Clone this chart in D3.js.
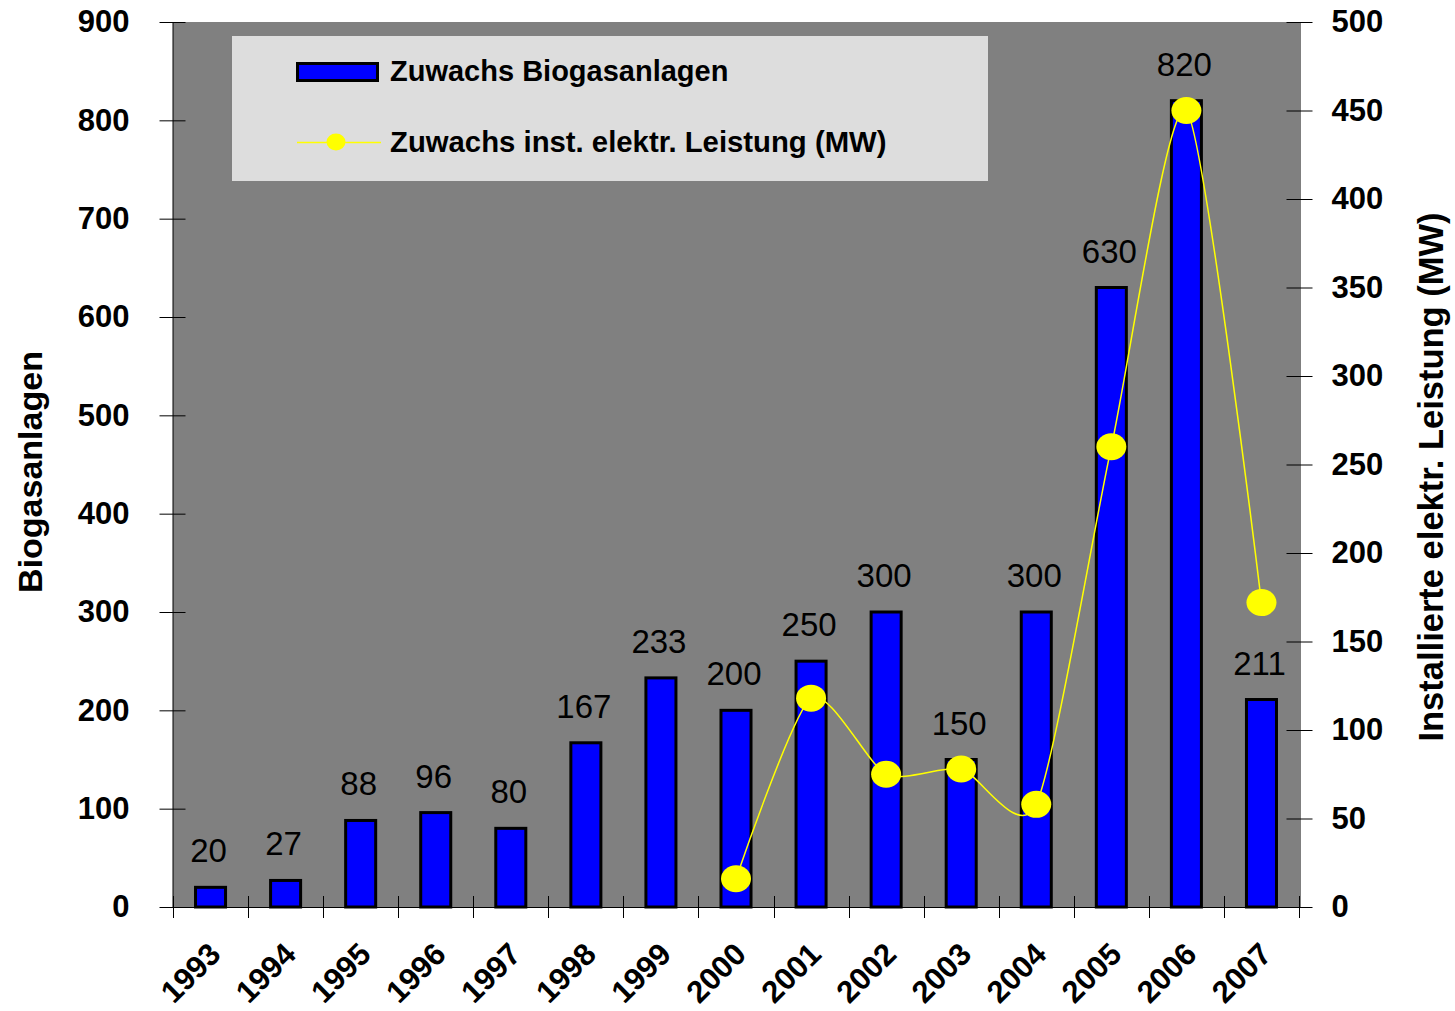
<!DOCTYPE html>
<html>
<head>
<meta charset="utf-8">
<script src="https://cdn.jsdelivr.net/npm/d3@7"></script>
<style>
  body { margin: 0; background: #fff; }
  svg text { font-family: "Liberation Sans", Arial, sans-serif; fill: #000; }
</style>
</head>
<body>
<div id="chart"></div>
<script>
// data
const years = ["1993","1994","1995","1996","1997","1998","1999","2000","2001","2002","2003","2004","2005","2006","2007"];
const anlagen = [20, 27, 88, 96, 80, 167, 233, 200, 250, 300, 150, 300, 630, 820, 211];
const leistungYears = ["2000","2001","2002","2003","2004","2005","2006","2007"];
const leistung = [16, 118, 75, 78, 58, 260, 450, 172];
const leftTicks = [0, 100, 200, 300, 400, 500, 600, 700, 800, 900];
const rightTicks = [0, 50, 100, 150, 200, 250, 300, 350, 400, 450, 500];

const width = 1455, height = 1011,
    plot = {left: 173, right: 1299, top: 22, bottom: 907};

const svg = d3.select("#chart").append("svg")
    .attr("width", width)
    .attr("height", height);

const x = d3.scaleBand()
    .domain(years)
    .range([plot.left, plot.right])
    .paddingInner(0.6)
    .paddingOuter(0.3);

const yL = d3.scaleLinear().domain([0, 900]).range([plot.bottom, plot.top]);
const yR = d3.scaleLinear().domain([0, 500]).range([plot.bottom, plot.top]);

// plot background
svg.append("rect")
    .attr("x", plot.left).attr("y", plot.top)
    .attr("width", plot.right - plot.left)
    .attr("height", plot.bottom - plot.top)
    .attr("fill", "#808080");

// bars
svg.append("g")
    .selectAll("rect")
    .data(anlagen)
    .enter()
    .append("rect")
        .attr("x", (d, i) => x(years[i]))
        .attr("y", d => yL(d))
        .attr("width", x.bandwidth())
        .attr("height", d => yL(0) - yL(d))
        .attr("fill", "#0000ff")
        .attr("stroke", "#000")
        .attr("stroke-width", 3);

// bar labels
svg.append("g")
    .selectAll("text")
    .data(anlagen)
    .enter()
    .append("text")
        .attr("x", (d, i) => x(years[i]) + x.bandwidth() / 2 - 2)
        .attr("y", d => yL(d) - 25)
        .attr("text-anchor", "middle")
        .style("font-size", "33px")
        .text(d => d);

// line (smoothed)
const cx = yr => x(yr) + x.bandwidth() / 2;
const line = d3.line()
    .x((d, i) => cx(leistungYears[i]))
    .y(d => yR(d))
    .curve(d3.curveCardinal.tension(0.3));

svg.append("path")
    .datum(leistung)
    .attr("d", line)
    .attr("fill", "none")
    .attr("stroke", "#ffff00")
    .attr("stroke-width", 1.5);

svg.append("g")
    .selectAll("ellipse")
    .data(leistung)
    .enter()
    .append("ellipse")
        .attr("cx", (d, i) => cx(leistungYears[i]))
        .attr("cy", d => yR(d))
        .attr("rx", 15)
        .attr("ry", 13.5)
        .attr("fill", "#ffff00");

// left axis
const axL = svg.append("g").attr("transform", "translate(" + (plot.left - 0.5) + ",0)")
    .call(d3.axisLeft(yL).tickValues(leftTicks).tickSizeInner(13).tickSizeOuter(0).tickPadding(30));
axL.selectAll(".tick line").attr("x2", 13).attr("x1", -13).attr("stroke", "#000");
axL.selectAll("text").style("font-size", "31px").style("font-weight", "bold")
    .style("font-family", "'Liberation Sans', Arial, sans-serif");
axL.select(".domain").attr("stroke", "#000");

// right axis
const axR = svg.append("g").attr("transform", "translate(" + (plot.right + 0.5) + ",0)")
    .call(d3.axisRight(yR).tickValues(rightTicks).tickSizeInner(13).tickSizeOuter(0).tickPadding(19));
axR.selectAll(".tick line").attr("x1", -13).attr("x2", 13).attr("stroke", "#000");
axR.selectAll("text").style("font-size", "31px").style("font-weight", "bold")
    .style("font-family", "'Liberation Sans', Arial, sans-serif");
axR.select(".domain").attr("stroke", "#000");

// bottom axis: ticks between categories
const bounds = d3.range(years.length + 1).map(i => plot.left + i * x.step());
svg.append("line")
    .attr("x1", plot.left).attr("x2", plot.right)
    .attr("y1", plot.bottom + 0.5).attr("y2", plot.bottom + 0.5)
    .attr("stroke", "#000");
svg.append("g")
    .selectAll("line")
    .data(bounds)
    .enter()
    .append("line")
        .attr("x1", d => Math.round(d) + 0.5).attr("x2", d => Math.round(d) + 0.5)
        .attr("y1", plot.bottom - 11).attr("y2", plot.bottom + 11)
        .attr("stroke", "#000");

svg.append("g")
    .selectAll("text")
    .data(years)
    .enter()
    .append("text")
        .attr("transform", d => "translate(" + (cx(d) + 12) + ",956) rotate(-45)")
        .attr("text-anchor", "end")
        .style("font-size", "31px")
        .style("font-weight", "bold")
        .text(d => d);

// axis titles
svg.append("text")
    .attr("transform", "translate(42,472) rotate(-90)")
    .attr("text-anchor", "middle")
    .style("font-size", "34px")
    .style("font-weight", "bold")
    .text("Biogasanlagen");

svg.append("text")
    .attr("transform", "translate(1443,477) rotate(-90)")
    .attr("text-anchor", "middle")
    .style("font-size", "34.5px")
    .style("font-weight", "bold")
    .text("Installierte elektr. Leistung (MW)");

// legend
const legend = svg.append("g");
legend.append("rect")
    .attr("x", 232).attr("y", 36)
    .attr("width", 756).attr("height", 145)
    .attr("fill", "#dddddd");
legend.append("rect")
    .attr("x", 297.5).attr("y", 63.5)
    .attr("width", 80).attr("height", 17)
    .attr("fill", "#0000ff")
    .attr("stroke", "#000")
    .attr("stroke-width", 3);
legend.append("text")
    .attr("x", 390).attr("y", 81)
    .style("font-size", "29px")
    .style("font-weight", "bold")
    .text("Zuwachs Biogasanlagen");
legend.append("line")
    .attr("x1", 297).attr("x2", 381)
    .attr("y1", 142.5).attr("y2", 142.5)
    .attr("stroke", "#ffff00")
    .attr("stroke-width", 1.5);
legend.append("ellipse")
    .attr("cx", 336).attr("cy", 142)
    .attr("rx", 9.5).attr("ry", 8.5)
    .attr("fill", "#ffff00");
legend.append("text")
    .attr("x", 390).attr("y", 152)
    .style("font-size", "29.3px")
    .style("font-weight", "bold")
    .text("Zuwachs inst. elektr. Leistung (MW)");
</script>
</body>
</html>
